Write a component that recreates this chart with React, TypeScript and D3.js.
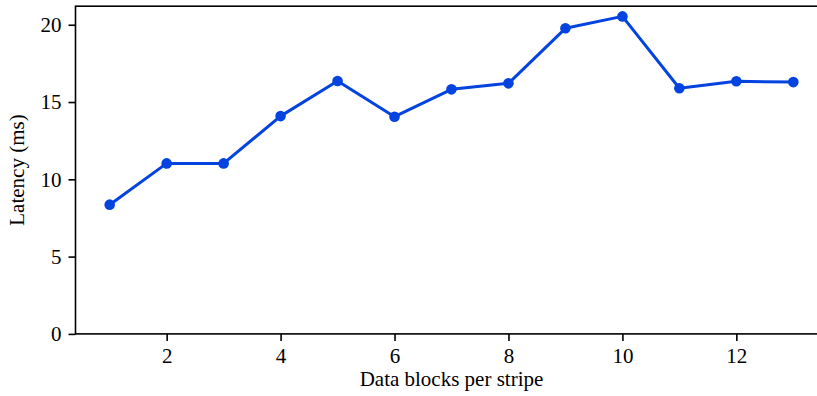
import React, { useEffect, useRef } from "react";
import * as d3 from "d3";

// data blocks per stripe vs. latency
const blocks = [1, 2, 3, 4, 5, 6, 7, 8, 9, 10, 11, 12, 13];
const latency = [8.36, 11.03, 11.03, 14.09, 16.36, 14.05, 15.82, 16.21, 19.77, 20.54, 15.89, 16.34, 16.29];
const xTicks = [2, 4, 6, 8, 10, 12];
const yTicks = [0, 5, 10, 15, 20];

export default function App() {
    const svgRef = useRef<SVGSVGElement>(null);

    useEffect(() => {
        const svg = d3.select(svgRef.current);
        const width = 817;
        const height = 396;
        const font = "'Liberation Serif', 'Times New Roman', serif";
        const fontSize = "21px";
        const color = "#0343df";

        svg.attr("width", width).attr("height", height);
        svg.selectAll("*").remove();

        const x = d3.scaleLinear().domain([0.4, 13.6]).range([75.5, 827.5]);
        const y = d3.scaleLinear().domain([0, 21.2]).range([333.9, 6.2]);

        const data = blocks.map((b, i) => ({ b, v: latency[i] }));

        // line + markers
        const line = d3
            .line<{ b: number; v: number }>()
            .x((d) => x(d.b))
            .y((d) => y(d.v));

        svg
            .append("path")
            .datum(data)
            .attr("d", line)
            .attr("fill", "none")
            .attr("stroke", color)
            .attr("stroke-width", 3)
            .attr("stroke-linejoin", "round");

        svg
            .append("g")
            .selectAll("circle")
            .data(data)
            .join("circle")
            .attr("cx", (d) => x(d.b))
            .attr("cy", (d) => y(d.v))
            .attr("r", 5.3)
            .attr("fill", color);

        // axes
        const xAxis = svg
            .append("g")
            .attr("transform", `translate(0,${y(0)})`)
            .call(d3.axisBottom(x).tickValues(xTicks).tickSize(7).tickPadding(7).tickFormat(d3.format("d")));
        const yAxis = svg
            .append("g")
            .attr("transform", `translate(${x(0.4)},0)`)
            .call(d3.axisLeft(y).tickValues(yTicks).tickSize(7).tickPadding(7).tickFormat(d3.format("d")));

        [xAxis, yAxis].forEach((g) => {
            g.select(".domain").remove();
            g.selectAll("line").attr("stroke", "#000").attr("stroke-width", 1.6);
            g.selectAll("text").style("font-family", font).style("font-size", fontSize).attr("fill", "#000");
        });

        // frame
        svg
            .append("rect")
            .attr("x", x(0.4))
            .attr("y", y(21.2))
            .attr("width", x(13.6) - x(0.4))
            .attr("height", y(0) - y(21.2))
            .attr("fill", "none")
            .attr("stroke", "#000")
            .attr("stroke-width", 1.6);

        // labels
        svg
            .append("text")
            .attr("x", (x(0.4) + x(13.6)) / 2)
            .attr("y", 386)
            .attr("text-anchor", "middle")
            .style("font-family", font)
            .style("font-size", fontSize)
            .text("Data blocks per stripe");

        svg
            .append("text")
            .attr("transform", `translate(24,${(y(0) + y(21.2)) / 2}) rotate(-90)`)
            .attr("text-anchor", "middle")
            .style("font-family", font)
            .style("font-size", fontSize)
            .text("Latency (ms)");
    }, []);

    return <svg ref={svgRef} style={{ position: "absolute", left: 0, top: 0 }}></svg>;
}
